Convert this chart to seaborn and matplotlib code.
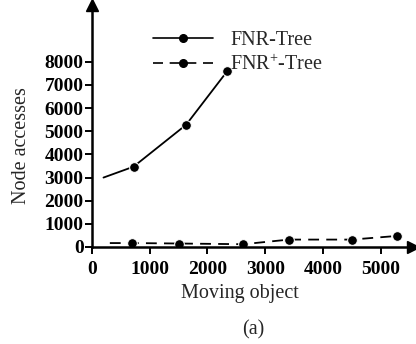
import matplotlib
matplotlib.use("Agg")
import matplotlib.pyplot as plt
from matplotlib.lines import Line2D
import seaborn as sns
import pandas as pd

# data
fnr_x = [200, 720, 1630, 2340]
fnr_y = [3000, 3470, 5280, 7590]
fnrp_x = [310, 700, 1510, 2620, 3410, 4500, 5290]
fnrp_y = [170, 170, 150, 120, 320, 320, 480]
series_names = ["FNR-Tree", "FNR$^{+}$-Tree"]
x_ticks = [0, 1000, 2000, 3000, 4000, 5000]
y_ticks = [0, 1000, 2000, 3000, 4000, 5000, 6000, 7000, 8000]

df = pd.concat([
    pd.DataFrame({"x": fnr_x, "y": fnr_y, "s": series_names[0]}),
    pd.DataFrame({"x": fnrp_x, "y": fnrp_y, "s": series_names[1]}),
])

sns.set_style("white")
plt.rcParams["font.family"] = ["Liberation Serif", "DejaVu Serif"]
plt.rcParams["mathtext.fontset"] = "custom"
plt.rcParams["mathtext.rm"] = "Liberation Serif"

fig = plt.figure(figsize=(4.16, 3.44), dpi=100)
ax = fig.add_axes([0.221, 0.282, 0.772, 0.703])

sns.lineplot(data=df, x="x", y="y", style="s", markers=["o", "o"],
             dashes=[(None, None), (6, 4)], color="black", linewidth=1.3,
             markersize=7, markevery=slice(1, None), ax=ax, legend=False,
             sort=False)

ax.set_xlim(0, 5560)
ax.set_ylim(0, 10450)
ax.set_xticks(x_ticks)
ax.set_yticks(y_ticks)
ax.tick_params(axis="both", direction="out", length=5, width=1.4,
               labelsize=14, colors="black")
ax.tick_params(axis="x", pad=5)
ax.tick_params(axis="y", pad=1)
for lbl in ax.get_xticklabels() + ax.get_yticklabels():
    lbl.set_fontweight("bold")
ax.xaxis.set_ticks_position("bottom")
ax.yaxis.set_ticks_position("left")
for side in ["top", "right"]:
    ax.spines[side].set_visible(False)
for side in ["left", "bottom"]:
    ax.spines[side].set_color("black")
    ax.spines[side].set_linewidth(1.8)
ax.plot(1, 0, ">k", markersize=8, transform=ax.get_yaxis_transform(), clip_on=False)
ax.plot(0, 1, "^k", markersize=8, transform=ax.get_xaxis_transform(), clip_on=False)

ax.set_xlabel("Moving object", fontsize=14.5, labelpad=10)
ax.set_ylabel("Node accesses", fontsize=14.5)
ax.xaxis.set_label_coords(0.461, -0.155)
ax.yaxis.set_label_coords(-0.19, 0.42)

handles = [
    Line2D([], [], color="black", linewidth=1.2, marker="o", markersize=5.5),
    Line2D([], [], color="black", linewidth=1.2, marker="o", markersize=5.5, dashes=(6, 4)),
]
fig.legend(handles, series_names, loc="upper left", bbox_to_anchor=(0.367, 0.91),
           frameon=False, fontsize=14.5, handlelength=3.0, handletextpad=0.85,
           labelspacing=0.2, numpoints=1, borderaxespad=0, borderpad=0)

fig.text(0.608, 0.04, "(a)", ha="center", va="center", fontsize=14.5)

fig.savefig("out.png", dpi=100)
